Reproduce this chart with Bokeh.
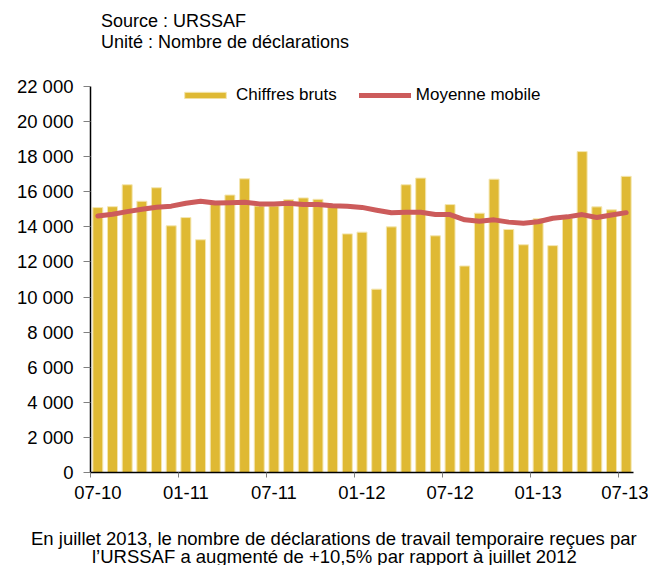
from bokeh.plotting import figure
from bokeh.models import ColumnDataSource, FixedTicker, Legend, LegendItem, Range1d, Title
from bokeh.embed import file_html
from bokeh.resources import INLINE

months = ["07-10", "08-10", "09-10", "10-10", "11-10", "12-10",
          "01-11", "02-11", "03-11", "04-11", "05-11", "06-11",
          "07-11", "08-11", "09-11", "10-11", "11-11", "12-11",
          "01-12", "02-12", "03-12", "04-12", "05-12", "06-12",
          "07-12", "08-12", "09-12", "10-12", "11-12", "12-12",
          "01-13", "02-13", "03-13", "04-13", "05-13", "06-13", "07-13"]

chiffres_bruts = [15100, 15150, 16400, 15460, 16230, 14060,
                  14530, 13265, 15290, 15815, 16740, 15190,
                  15190, 15550, 15650, 15570, 15150, 13600,
                  13700, 10450, 14000, 16400, 16780, 13490,
                  15270, 11770, 14780, 16720, 13850, 12980,
                  14460, 12930, 14500, 18290, 15140, 14970, 16880]

moyenne_mobile = [14620, 14720, 14870, 15000, 15120, 15180,
                  15350, 15460, 15360, 15380, 15400, 15310,
                  15310, 15350, 15270, 15270, 15210, 15180,
                  15110, 14950, 14800, 14830, 14830, 14700,
                  14700, 14400, 14320, 14400, 14270, 14210,
                  14290, 14490, 14570, 14700, 14530, 14680, 14810]

x_tick_labels = ["07-10", "01-11", "07-11", "01-12", "07-12", "01-13", "07-13"]
y_ticks = list(range(0, 22001, 2000))
y_tick_labels = ["0", "2 000", "4 000", "6 000", "8 000", "10 000", "12 000",
                 "14 000", "16 000", "18 000", "20 000", "22 000"]

header_lines = ["Source : URSSAF", "Unité : Nombre de déclarations"]
caption_lines = ["En juillet 2013, le nombre de déclarations de travail temporaire reçues par",
                 "l\u2019URSSAF a augmenté de +10,5% par rapport à juillet 2012"]

FONT = "Liberation Sans"
BAR_COLOR = "#DFB933"
LINE_COLOR = "#CC5B5B"

idx = list(range(len(months)))
src = ColumnDataSource(dict(x=idx, month=months, brut=chiffres_bruts, mm=moyenne_mobile))

p = figure(width=648, height=565, output_backend="svg", toolbar_location=None,
           x_range=Range1d(-0.5, len(months) - 0.5), y_range=Range1d(0, 22000),
           min_border_left=90, min_border_right=15, min_border_top=86, min_border_bottom=93)
p.outline_line_color = None
p.xgrid.grid_line_color = None
p.ygrid.grid_line_color = None
p.background_fill_color = "white"
p.border_fill_color = "white"

bars = p.vbar(x="x", top="brut", width=0.68, source=src, fill_color=BAR_COLOR,
              line_color="#F4E6B0", line_width=1)
line = p.line(x="x", y="mm", source=src, line_color=LINE_COLOR, line_width=5,
              line_cap="round", line_join="round")

# x axis: labels centred on the month, tick marks on the month boundaries
label_pos = [i for i in idx if months[i] in x_tick_labels]
p.xaxis.ticker = FixedTicker(ticks=label_pos, minor_ticks=[i - 0.5 for i in label_pos])
p.xaxis.major_label_overrides = {i: months[i] for i in label_pos}
p.xaxis.major_tick_line_color = None
p.xaxis.major_tick_in = 0
p.xaxis.major_tick_out = 5
p.xaxis.minor_tick_in = 0
p.xaxis.minor_tick_out = 5
p.xaxis.minor_tick_line_color = "#808080"
p.xaxis.axis_line_color = "black"
p.xaxis.axis_line_width = 1.5
p.xaxis.major_label_text_font = FONT
p.xaxis.major_label_text_font_size = "18.5px"
p.xaxis.major_label_text_color = "black"
p.xaxis.major_label_standoff = 8

p.yaxis.ticker = FixedTicker(ticks=y_ticks)
p.yaxis.major_label_overrides = {t: l for t, l in zip(y_ticks, y_tick_labels)}
p.yaxis.minor_tick_line_color = None
p.yaxis.major_tick_in = 0
p.yaxis.major_tick_out = 7
p.yaxis.major_tick_line_color = "#808080"
p.yaxis.axis_line_color = "black"
p.yaxis.axis_line_width = 1.5
p.yaxis.major_label_text_font = FONT
p.yaxis.major_label_text_font_size = "18.5px"
p.yaxis.major_label_text_color = "black"
p.yaxis.major_label_standoff = 10

legend = Legend(items=[LegendItem(label="Chiffres bruts", renderers=[bars]),
                       LegendItem(label="Moyenne mobile", renderers=[line])],
                orientation="horizontal", location=(89, 367),
                border_line_alpha=0, background_fill_alpha=0, padding=0, margin=0,
                spacing=22, glyph_width=52, glyph_height=8, label_standoff=5,
                label_text_font=FONT, label_text_font_size="17px", label_text_color="black")
p.add_layout(legend, "center")


def text_title(text, size, offset, standoff):
    return Title(text=text, align="left", offset=offset, standoff=standoff,
                 text_font=FONT, text_font_size=size, text_font_style="normal",
                 text_color="black")


# header (above the frame): spacer nearest the frame, then line 2, then line 1
p.add_layout(text_title(" ", "18px", 0, 13), "above")
p.add_layout(text_title(header_lines[1], "18px", 10.5, 0), "above")
p.add_layout(text_title(header_lines[0], "18px", 10.5, -2), "above")

# caption (below the x axis): spacer, line 1, line 2
p.add_layout(text_title(" ", "18.5px", 0, -1), "below")
p.add_layout(text_title(caption_lines[0], "18.5px", -59.5, 4), "below")
p.add_layout(text_title(caption_lines[1], "18.5px", 1.5, -14), "below")

open("out.html", "w").write(file_html(p, INLINE))
